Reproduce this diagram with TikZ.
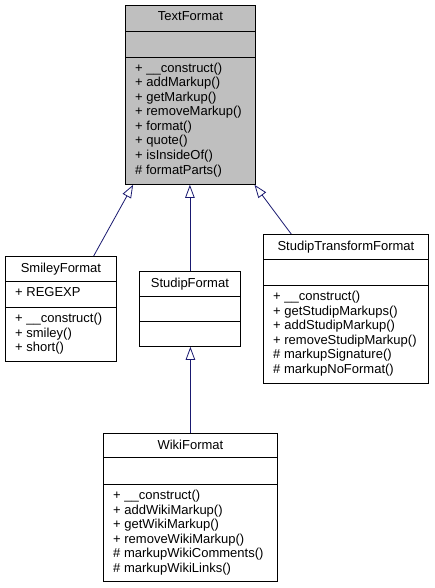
\documentclass[tikz,border=0pt]{standalone}
\usepackage{fontspec}
\setmainfont{Liberation Sans}
\usetikzlibrary{arrows.meta,calc}
\definecolor{edgeblue}{HTML}{191970}
\definecolor{basegray}{HTML}{BFBFBF}
\begin{document}
\begin{tikzpicture}[x=1pt,y=-1pt,
  classbox/.style={draw=black, line width=0.8pt, inner sep=0pt, anchor=north west, fill=white},
  sepline/.style={draw=black, line width=0.8pt},
  titletext/.style={anchor=base, inner sep=0pt, font=\fontsize{13}{14.5}\selectfont},
  membertext/.style={anchor=base west, inner sep=0pt, font=\fontsize{13}{14.5}\selectfont},
  inh/.style={draw=edgeblue, line width=0.8pt, -{Triangle[open, length=13pt, width=9.5pt]}}]
\fill[white] (0,0) rectangle (434,588);
\useasboundingbox (0,0) rectangle (434,588);

% TextFormat
\node[classbox, fill=basegray, minimum width=130pt, minimum height=179pt] (tf) at (125,5) {};
\draw[sepline] ($(tf.north west)+(0,26)$) -- ($(tf.north east)+(0,26)$);
\draw[sepline] ($(tf.north west)+(0,52)$) -- ($(tf.north east)+(0,52)$);
\node[titletext] (tf-t) at ($(tf.north)+(0,16)$) {TextFormat};
\foreach \m [count=\i from 0] in {{+ \_\_construct()},{+ addMarkup()},{+ getMarkup()},{+ removeMarkup()},{+ format()},{+ quote()},{+ isInsideOf()},{\# formatParts()}}
  \node[membertext] (tf-m\i) at ($(tf.north west)+(10,{67.5+14.5*\i})$) {\m};

% SmileyFormat
\node[classbox, minimum width=111pt, minimum height=105pt] (smiley) at (5,256) {};
\draw[sepline] ($(smiley.north west)+(0,25)$) -- ($(smiley.north east)+(0,25)$);
\draw[sepline] ($(smiley.north west)+(0,51)$) -- ($(smiley.north east)+(0,51)$);
\node[titletext] (smiley-t) at ($(smiley.north)+(0,16)$) {SmileyFormat};
\node[membertext] (smiley-a0) at ($(smiley.north west)+(10,40.5)$) {+ REGEXP};
\foreach \m [count=\i from 0] in {{+ \_\_construct()},{+ smiley()},{+ short()}}
  \node[membertext] (smiley-m\i) at ($(smiley.north west)+(10,{66.5+14.5*\i})$) {\m};

% StudipFormat
\node[classbox, minimum width=101pt, minimum height=75pt] (studip) at (139,271) {};
\draw[sepline] ($(studip.north west)+(0,25)$) -- ($(studip.north east)+(0,25)$);
\draw[sepline] ($(studip.north west)+(0,50)$) -- ($(studip.north east)+(0,50)$);
\node[titletext] (studip-t) at ($(studip.north)+(0,16)$) {StudipFormat};

% StudipTransformFormat
\node[classbox, minimum width=165pt, minimum height=149pt] (stf) at (263,234) {};
\draw[sepline] ($(stf.north west)+(0,25)$) -- ($(stf.north east)+(0,25)$);
\draw[sepline] ($(stf.north west)+(0,51)$) -- ($(stf.north east)+(0,51)$);
\node[titletext] (stf-t) at ($(stf.north)+(0,16)$) {StudipTransformFormat};
\foreach \m [count=\i from 0] in {{+ \_\_construct()},{+ getStudipMarkups()},{+ addStudipMarkup()},{+ removeStudipMarkup()},{\# markupSignature()},{\# markupNoFormat()}}
  \node[membertext] (stf-m\i) at ($(stf.north west)+(10,{66.5+14.5*\i})$) {\m};

% WikiFormat
\node[classbox, minimum width=174pt, minimum height=148pt] (wiki) at (103,433) {};
\draw[sepline] ($(wiki.north west)+(0,24)$) -- ($(wiki.north east)+(0,24)$);
\draw[sepline] ($(wiki.north west)+(0,51)$) -- ($(wiki.north east)+(0,51)$);
\node[titletext] (wiki-t) at ($(wiki.north)+(0,16)$) {WikiFormat};
\foreach \m [count=\i from 0] in {{+ \_\_construct()},{+ addWikiMarkup()},{+ getWikiMarkup()},{+ removeWikiMarkup()},{\# markupWikiComments()},{\# markupWikiLinks()}}
  \node[membertext] (wiki-m\i) at ($(wiki.north west)+(10,{66.5+14.5*\i})$) {\m};

% Inheritance connectors
\draw[inh] ($(smiley.north west)!0.793!(smiley.north east)$) -- ($(tf.south west)!0.062!(tf.south east)$);
\draw[inh] (studip.north) -- (studip.north |- tf.south);
\draw[inh] ($(stf.north west)!0.17!(stf.north east)$) -- ($(tf.south west)!0.99!(tf.south east)$);
\draw[inh] (wiki.north) -- (wiki.north |- studip.south);
\end{tikzpicture}
\end{document}
